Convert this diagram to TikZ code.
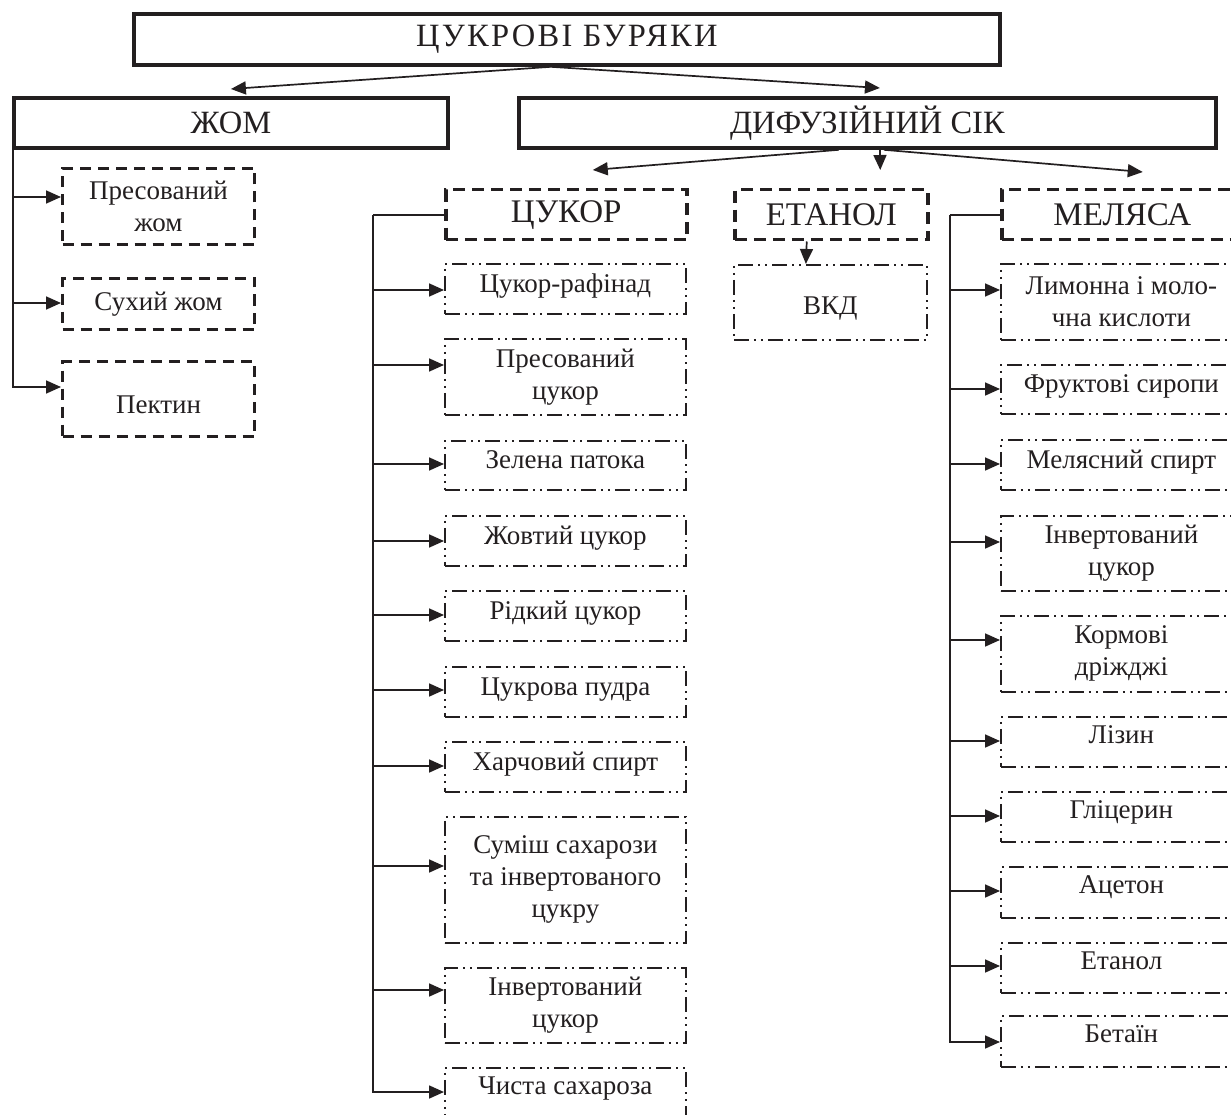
\documentclass[tikz,border=0pt]{standalone}
\usepackage{fontspec}
\setmainfont{Liberation Serif}
\usetikzlibrary{arrows.meta}
\definecolor{ink}{RGB}{35,31,32}
\begin{document}
\begin{tikzpicture}[x=1pt,y=-1pt,
  bigbox/.style={draw=ink, line width=3.8pt, anchor=north west, inner sep=0pt, font=\fontsize{32.5}{36}\selectfont, text=ink},
  grpbox/.style={draw=ink, line width=3.5pt, dash pattern=on 12pt off 7pt, anchor=north west, inner sep=0pt, font=\fontsize{33}{36}\selectfont, text=ink},
  zbox/.style={draw=ink, line width=3pt, dash pattern=on 11pt off 7pt, anchor=north west, inner sep=0pt, align=center, font=\fontsize{27}{32}\selectfont, text=ink, minimum width=192pt},
  pbox/.style={draw=ink, line width=1.8pt, dash pattern=on 15pt off 5pt on 2pt off 5pt on 2pt off 5pt, anchor=north west, inner sep=0pt, align=center, font=\fontsize{27}{32}\selectfont, text=ink, minimum width=241pt},
  up/.style={text height=17pt, text depth=10pt},
  upmore/.style={text height=15pt, text depth=12pt},
  low/.style={text height=#1, text depth=0pt},
  arr/.style={draw=ink, line width=1.7pt, -{Triangle[length=15pt,width=13pt]}},
  ln/.style={draw=ink, line width=1.7pt}]
\useasboundingbox (0,0) rectangle (1231,1115);
\clip (0,0) rectangle (1231,1115);
% top levels
\node[bigbox, minimum width=866pt, minimum height=51pt] (root) at (132,12) {\addfontfeatures{LetterSpace=7}ЦУКРОВІ БУРЯКИ};
\node[bigbox, minimum width=434pt, minimum height=50pt] (zhom) at (12,96) {ЖОМ};
\node[bigbox, minimum width=697pt, minimum height=50pt] (dif) at (517,96) {ДИФУЗІЙНИЙ СІК};
% third level
\node[grpbox, minimum width=241pt, minimum height=50pt] (tsukor) at (444,188) {ЦУКОР};
\node[grpbox, minimum width=193pt, minimum height=50pt] (etanol) at (733,188) {ЕТАНОЛ};
\node[grpbox, minimum width=241pt, minimum height=50pt] (melyasa) at (1000,188) {МЕЛЯСА};
\node[pbox, low=24pt, minimum width=193pt, minimum height=75pt] (vkd) at (733,264) {ВКД};
% zhom group
\node[zbox, minimum height=76pt] (zp1) at (61,167) {Пресований\\жом};
\node[zbox, minimum height=51pt] (zp2) at (61,277) {Сухий жом};
\node[zbox, low=29pt, minimum height=75pt] (zp3) at (61,360) {Пектин};
% tsukor group
\node[pbox, up, minimum height=50pt] (c1) at (444,263) {Цукор-рафінад};
\node[pbox, minimum height=76pt] (c2) at (444,338) {Пресований\\цукор};
\node[pbox, up, minimum height=49pt] (c3) at (444,440) {Зелена патока};
\node[pbox, up, minimum height=50pt] (c4) at (444,515) {Жовтий цукор};
\node[pbox, up, minimum height=50pt] (c5) at (444,590) {Рідкий цукор};
\node[pbox, up, minimum height=50pt] (c6) at (444,666) {Цукрова пудра};
\node[pbox, up, minimum height=50pt] (c7) at (444,741) {Харчовий спирт};
\node[pbox, minimum height=126pt] (c8) at (444,816) {Суміш сахарози\\та інвертованого\\цукру};
\node[pbox, minimum height=75pt] (c9) at (444,967) {Інвертований\\цукор};
\node[pbox, upmore, minimum height=50pt] (c10) at (444,1067) {Чиста сахароза};
% melyasa group
\node[pbox, minimum height=76pt] (m1) at (1000,263) {Лимонна і моло-\\чна кислоти};
\node[pbox, up, minimum height=49pt] (m2) at (1000,364) {Фруктові сиропи};
\node[pbox, up, minimum height=50pt] (m3) at (1000,439) {Мелясний спирт};
\node[pbox, minimum height=75pt] (m4) at (1000,515) {Інвертований\\цукор};
\node[pbox, minimum height=76pt] (m5) at (1000,615) {Кормові\\дріжджі};
\node[pbox, upmore, minimum height=50pt] (m6) at (1000,716) {Лізин};
\node[pbox, upmore, minimum height=50pt] (m7) at (1000,791) {Гліцерин};
\node[pbox, upmore, minimum height=51pt] (m8) at (1000,866) {Ацетон};
\node[pbox, upmore, minimum height=50pt] (m9) at (1000,942) {Етанол};
\node[pbox, upmore, minimum height=51pt] (m10) at (1000,1015) {Бетаїн};
% connectors top
\draw[arr] ([xshift=-16pt]root.south) -- ([yshift=7pt]zhom.north);
\draw[arr] ([xshift=-16pt]root.south) -- ([xshift=12.5pt,yshift=8pt]dif.north);
\draw[arr] ([xshift=-28.5pt]dif.south) -- ([xshift=26.5pt,yshift=18pt]tsukor.north);
\draw[arr] ([xshift=12.5pt]dif.south) -- ([xshift=49pt,yshift=18pt]etanol.north);
\draw[arr] ([xshift=16.5pt]dif.south) -- ([xshift=20.5pt,yshift=16pt]melyasa.north);
\draw[arr] ([xshift=-24.5pt]etanol.south) -- ([xshift=-24.5pt]vkd.north);
% zhom group
\draw[arr] ([xshift=1pt]zhom.south west) |- ([yshift=-30pt]zp1.north west);
\draw[arr] ([xshift=1pt]zhom.south west) |- ([yshift=-26pt]zp2.north west);
\draw[arr] ([xshift=1pt]zhom.south west) |- ([yshift=-27pt]zp3.north west);
% tsukor group
\draw[ln] (tsukor.west) -- ++(-71,0) coordinate (ct);
\foreach \b/\o in {c1/27,c2/27,c3/24,c4/26,c5/25,c6/24,c7/25,c8/50,c9/23,c10/25}
  \draw[arr] (ct) |- ([yshift=-\o pt]\b.north west);
% melyasa group
\draw[ln] (melyasa.west) -- ++(-50,0) coordinate (mt);
\foreach \b/\o in {m1/27,m2/25,m3/25,m4/27,m5/25,m6/25,m7/25,m8/25,m9/24,m10/27}
  \draw[arr] (mt) |- ([yshift=-\o pt]\b.north west);
\end{tikzpicture}
\end{document}
